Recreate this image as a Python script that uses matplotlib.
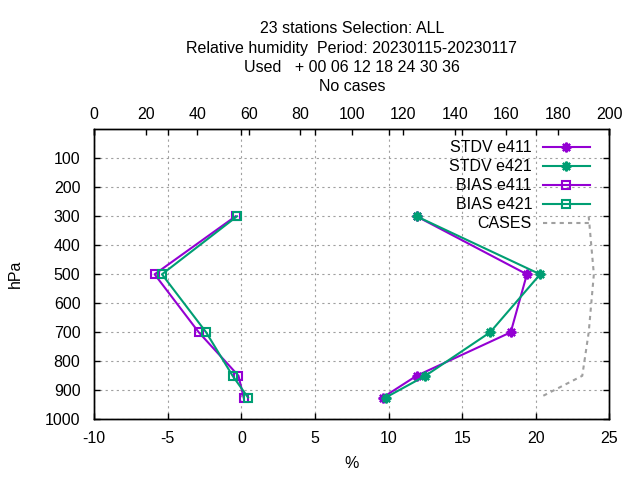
import matplotlib
matplotlib.use("Agg")
import matplotlib.pyplot as plt
from matplotlib.lines import Line2D

plt.rcParams['font.family'] = ['Liberation Sans', 'DejaVu Sans']
FS = 11.5
plt.rcParams['font.size'] = FS

# Data
levels = [300, 500, 700, 850, 925]
stdv_e411 = [11.9, 19.4, 18.3, 11.9, 9.6]
stdv_e421 = [11.9, 20.3, 16.9, 12.5, 9.8]
bias_e411 = [-0.4, -5.9, -2.9, -0.2, 0.15]
bias_e421 = [-0.3, -5.4, -2.4, -0.6, 0.45]
cases = [192, 194, 192, 189.5, 173]

title_lines = ["23 stations Selection: ALL",
               "Relative humidity  Period: 20230115-20230117",
               "Used   + 00 06 12 18 24 30 36",
               "No cases"]
yticks = list(range(100, 1001, 100))
xticks = list(range(-10, 26, 5))
x2ticks = list(range(0, 201, 20))

purple = '#9400D3'
green = '#009E73'
gray = '#A0A0A0'

W, H = 640, 480
fig = plt.figure(figsize=(6.4, 4.8), dpi=100)
left, right, bottom, top = 94.3, 609.3, 419.3, 129.3
ax = fig.add_axes([left / W, 1 - bottom / H, (right - left) / W, (bottom - top) / H])
ax2 = ax.twiny()

star = (8, 2, 0)
lw = 1.5
smk = dict(marker=star, ms=7, mew=1.6)
sqk = dict(marker='s', ms=5.2, mew=1.5, mfc='none')
ax.plot(stdv_e411, levels, color=purple, lw=lw, label='STDV e411', **smk)
ax.plot(stdv_e421, levels, color=green, lw=lw, label='STDV e421', **smk)
ax.plot(bias_e411, levels, color=purple, lw=lw, label='BIAS e411', **sqk)
ax.plot(bias_e421, levels, color=green, lw=lw, label='BIAS e421', **sqk)
ax2.plot(cases, levels, color=gray, lw=1.5, dashes=(2, 2), label='CASES')

ax.set_xlim(-10, 25)
ax.set_ylim(1000, 0)
ax2.set_xlim(0, 200)
ax.set_xticks(xticks)
ax.set_xticklabels([str(v) for v in xticks])
ax.set_yticks(yticks)
ax.set_yticklabels([str(v) for v in yticks])
ax2.set_xticks(x2ticks)
ax2.set_xticklabels([str(v) for v in x2ticks])

ax.grid(True, color='#A0A0A0', linestyle=(0, (2, 3)), linewidth=0.8)
ax.set_axisbelow(True)

ax.tick_params(axis='x', direction='in', length=4, width=1, pad=8.5, top=True, labeltop=False)
ax.tick_params(axis='y', direction='in', length=4, width=1, pad=10, right=True)
ax2.tick_params(axis='x', direction='in', length=4, width=1, pad=5, bottom=False)
for a in (ax, ax2):
    for s in a.spines.values():
        s.set_linewidth(1)

ax.set_ylabel('hPa')
ax.yaxis.set_label_coords(-(left - 23) / (right - left), 0.5)
ax.set_xlabel('%')
ax.xaxis.set_label_coords(0.5, -(456 - bottom) / (bottom - top))

handles = [
    Line2D([], [], color=purple, lw=lw, **smk),
    Line2D([], [], color=green, lw=lw, **smk),
    Line2D([], [], color=purple, lw=lw, **sqk),
    Line2D([], [], color=green, lw=lw, **sqk),
    Line2D([], [], color=gray, lw=1.5, dashes=(2, 2)),
]
labels = ['STDV e411', 'STDV e421', 'BIAS e411', 'BIAS e421', 'CASES']
leg = ax2.legend(handles, labels, loc='upper right', bbox_to_anchor=((589.5 - left) / (right - left), 1 - (140.5 - top) / (bottom - top)),
                 frameon=False, markerfirst=False, handlelength=2.9, handletextpad=0.7,
                 labelspacing=0.25, borderaxespad=0, borderpad=0, fontsize=FS)
for t in leg.get_texts():
    t.set_ha('right')

xc = (left + right) / 2 / W
for i, line in enumerate(title_lines):
    yb = 33.3 + 19.3 * i
    fig.text(xc, 1 - yb / H, line, ha='center', va='baseline', fontsize=FS)

fig.savefig('out.png', dpi=100)
